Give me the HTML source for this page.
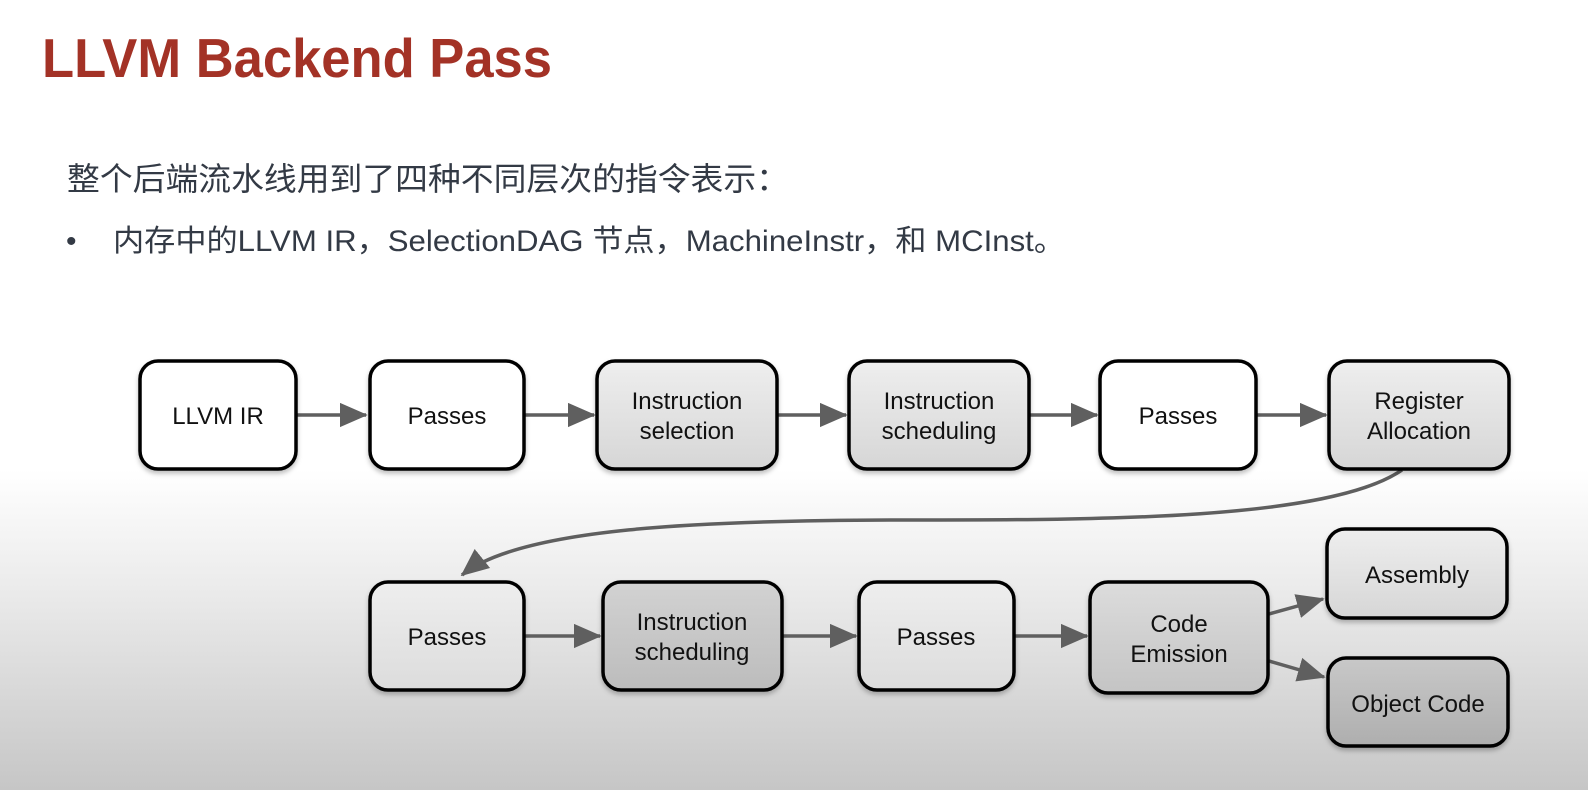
<!DOCTYPE html>
<html><head><meta charset="utf-8"><style>
html,body{margin:0;padding:0;}
body{width:1588px;height:790px;overflow:hidden;background:linear-gradient(to bottom,#fff 0px,#fff 470px,#e9e9e9 600px,#c6c6c6 790px);}
</style></head><body>
<svg width="1588" height="790" viewBox="0 0 1588 790" xmlns="http://www.w3.org/2000/svg" style="position:absolute;left:0;top:0">
<defs>
<linearGradient id="g1" x1="0" y1="0" x2="0" y2="1"><stop offset="0" stop-color="#eeeeee"/><stop offset="1" stop-color="#d6d6d6"/></linearGradient>
<linearGradient id="g2" x1="0" y1="0" x2="0" y2="1"><stop offset="0" stop-color="#eeeeee"/><stop offset="1" stop-color="#dcdcdc"/></linearGradient>
<linearGradient id="g3" x1="0" y1="0" x2="0" y2="1"><stop offset="0" stop-color="#d2d2d2"/><stop offset="1" stop-color="#bcbcbc"/></linearGradient>
<linearGradient id="g4" x1="0" y1="0" x2="0" y2="1"><stop offset="0" stop-color="#dcdcdc"/><stop offset="1" stop-color="#c4c4c4"/></linearGradient>
<linearGradient id="g5" x1="0" y1="0" x2="0" y2="1"><stop offset="0" stop-color="#c8c8c8"/><stop offset="1" stop-color="#aeaeae"/></linearGradient>
<marker id="ah" markerWidth="8" markerHeight="7" refX="7.5" refY="3.5" orient="auto" markerUnits="strokeWidth"><path d="M0,0 L8,3.5 L0,7 z" fill="#5f5f5f"/></marker>
<filter id="sh" x="-10%" y="-10%" width="120%" height="130%"><feDropShadow dx="0" dy="3" stdDeviation="2.5" flood-color="#000" flood-opacity="0.25"/></filter>
</defs>
<text x="42" y="77" font-family="Liberation Sans, sans-serif" font-weight="bold" font-size="55" fill="#a33226" textLength="510" lengthAdjust="spacingAndGlyphs">LLVM Backend Pass</text>
<text x="67" y="190" font-family="Liberation Sans, Noto Sans CJK SC, sans-serif" font-size="32" fill="#333a45" textLength="722" lengthAdjust="spacingAndGlyphs">整个后端流水线用到了四种不同层次的指令表示：</text>
<text x="66" y="251" font-family="Liberation Sans, Noto Sans CJK SC, sans-serif" font-size="30" fill="#333a45">•</text>
<text x="113" y="251" font-family="Liberation Sans, Noto Sans CJK SC, sans-serif" font-size="30" fill="#333a45" textLength="952" lengthAdjust="spacingAndGlyphs">内存中的LLVM IR，SelectionDAG 节点，MachineInstr，和 MCInst。</text>

<g stroke="#5f5f5f" stroke-width="3.5" fill="none" marker-end="url(#ah)">
<line x1="297" y1="415" x2="366" y2="415"/>
<line x1="525" y1="415" x2="594" y2="415"/>
<line x1="778" y1="415" x2="846" y2="415"/>
<line x1="1030" y1="415" x2="1097" y2="415"/>
<line x1="1257" y1="415" x2="1326" y2="415"/>
<line x1="525" y1="636" x2="600" y2="636"/>
<line x1="783" y1="636" x2="856" y2="636"/>
<line x1="1015" y1="636" x2="1087" y2="636"/>
<line x1="1269" y1="614" x2="1323" y2="599"/>
<line x1="1269" y1="661" x2="1324" y2="677"/>
<path d="M1402,470 C1330,520 1100,520 910,520 C700,520 520,528 462,575"/>
</g>

<g stroke="#000" stroke-width="3.5" filter="url(#sh)">
<rect x="140" y="361" width="156" height="108" rx="18" fill="#fff"/>
<rect x="370" y="361" width="154" height="108" rx="18" fill="#fff"/>
<rect x="597" y="361" width="180" height="108" rx="18" fill="url(#g1)"/>
<rect x="849" y="361" width="180" height="108" rx="18" fill="url(#g1)"/>
<rect x="1100" y="361" width="156" height="108" rx="18" fill="#fff"/>
<rect x="1329" y="361" width="180" height="108" rx="18" fill="url(#g1)"/>
<rect x="370" y="582" width="154" height="108" rx="18" fill="url(#g2)"/>
<rect x="603" y="582" width="179" height="108" rx="18" fill="url(#g3)"/>
<rect x="859" y="582" width="155" height="108" rx="18" fill="url(#g2)"/>
<rect x="1090" y="582" width="178" height="111" rx="18" fill="url(#g4)"/>
<rect x="1327" y="529" width="180" height="89" rx="18" fill="url(#g1)"/>
<rect x="1328" y="658" width="180" height="88" rx="18" fill="url(#g5)"/>
</g>

<g font-family="Liberation Sans, sans-serif" font-size="24" fill="#111" text-anchor="middle">
<text x="218" y="424">LLVM IR</text>
<text x="447" y="424">Passes</text>
<text x="687" y="409">Instruction</text><text x="687" y="439">selection</text>
<text x="939" y="409">Instruction</text><text x="939" y="439">scheduling</text>
<text x="1178" y="424">Passes</text>
<text x="1419" y="409">Register</text><text x="1419" y="439">Allocation</text>
<text x="447" y="645">Passes</text>
<text x="692" y="630">Instruction</text><text x="692" y="660">scheduling</text>
<text x="936" y="645">Passes</text>
<text x="1179" y="632">Code</text><text x="1179" y="662">Emission</text>
<text x="1417" y="583">Assembly</text>
<text x="1418" y="712">Object Code</text>
</g>
</svg>
</body></html>
